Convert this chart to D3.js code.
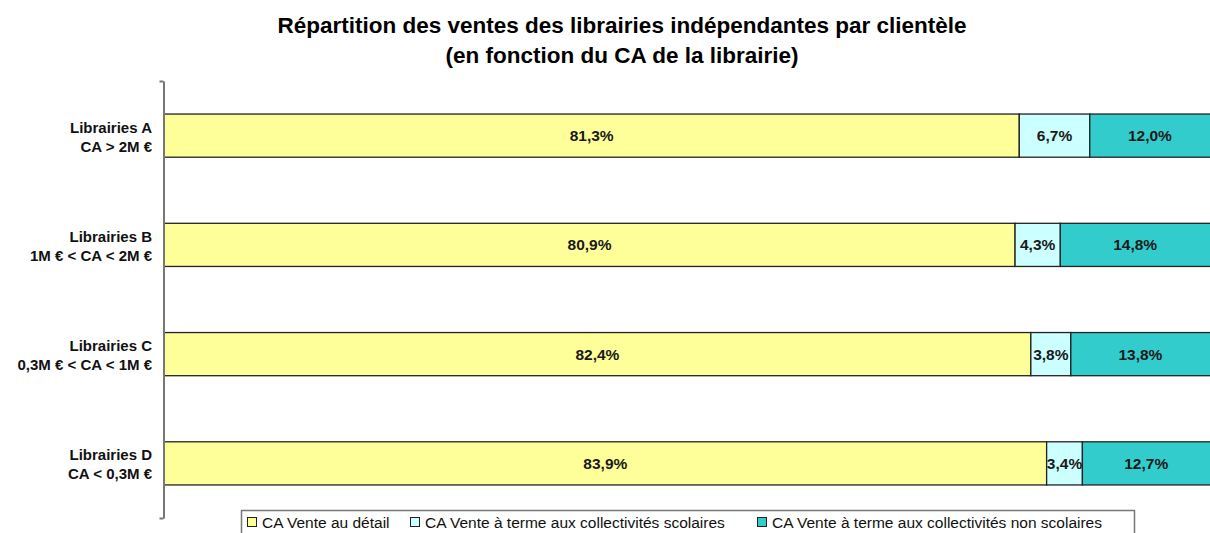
<!DOCTYPE html>
<html>
<head>
<meta charset="utf-8">
<script src="https://cdn.jsdelivr.net/npm/d3@7"></script>
<style>
  body { margin: 0; background: #fff; }
  svg { display: block; font-family: "Liberation Sans", Arial, sans-serif; }
</style>
</head>
<body>
<svg></svg>
<script>
let categories = [
    ["Librairies A", "CA > 2M €"],
    ["Librairies B", "1M € < CA < 2M €"],
    ["Librairies C", "0,3M € < CA < 1M €"],
    ["Librairies D", "CA < 0,3M €"]
];
let seriesNames = [
    "CA Vente au détail",
    "CA Vente à terme aux collectivités scolaires",
    "CA Vente à terme aux collectivités non scolaires"
];
let detail = [81.3, 80.9, 82.4, 83.9];
let scolaires = [6.7, 4.3, 3.8, 3.4];
let nonScolaires = [12.0, 14.8, 13.8, 12.7];
let colors = ["#FFFF99", "#CCFFFF", "#33CCCC"];

let width = 1210;
let height = 533;

let svg = d3.select("svg")
    .attr("width", width)
    .attr("height", height);

// title
svg.append("text")
    .attr("x", 622).attr("y", 33)
    .attr("text-anchor", "middle")
    .style("font-size", "22.5px").style("font-weight", "bold")
    .text("Répartition des ventes des librairies indépendantes par clientèle");
svg.append("text")
    .attr("x", 622).attr("y", 63)
    .attr("text-anchor", "middle")
    .style("font-size", "22.5px").style("font-weight", "bold")
    .text("(en fonction du CA de la librairie)");

let rows = categories.map((c, i) => ({
    key: i,
    values: [detail[i], scolaires[i], nonScolaires[i]]
}));

let yScale = d3.scaleBand()
    .domain(d3.range(categories.length))
    .range([81, 518])
    .paddingInner(0.605)
    .paddingOuter(0.3025);

let xScale = d3.scaleLinear()
    .domain([0, 100])
    .range([164, 1216]);

// bars
let stack = d3.stack().keys([0, 1, 2]).value((d, k) => d.values[k]);
let layers = stack(rows);

let groups = svg.selectAll("g.layer")
    .data(layers)
    .enter()
    .append("g")
    .attr("class", "layer")
    .attr("fill", (d, i) => colors[i]);

groups.selectAll("rect")
    .data(d => d)
    .enter()
    .append("rect")
    .attr("x", d => xScale(d[0]))
    .attr("width", d => xScale(d[1]) - xScale(d[0]))
    .attr("y", d => yScale(d.data.key))
    .attr("height", yScale.bandwidth())
    .attr("stroke", "#222")
    .attr("stroke-width", 1.3);

groups.selectAll("text")
    .data(d => d)
    .enter()
    .append("text")
    .attr("x", d => (xScale(d[0]) + Math.min(xScale(d[1]), 1210)) / 2)
    .attr("y", d => yScale(d.data.key) + yScale.bandwidth() / 2 + 5.5)
    .attr("text-anchor", "middle")
    .attr("fill", "#1a1a1a")
    .style("font-size", "15.5px").style("font-weight", "bold")
    .text(d => d3.format(".1f")(d[1] - d[0]).replace(".", ",") + "%");

// y axis
let yAxis = d3.axisLeft(d3.scaleLinear().domain([0, 1]).range([518, 81]))
    .tickValues([0, 1]).tickSize(4).tickSizeOuter(0).tickFormat("");
let axisG = svg.append("g")
    .attr("transform", "translate(163.5,0)")
    .call(yAxis);
axisG.selectAll("path, line").attr("stroke", "#777").attr("stroke-width", 2);

// category labels
categories.forEach((c, i) => {
    let t = svg.append("text")
        .attr("text-anchor", "end")
        .attr("y", yScale(i) + yScale.bandwidth() / 2 - 3)
        .style("font-size", "15px").style("font-weight", "bold")
        .attr("fill", "#111");
    t.append("tspan").attr("x", 152).text(c[0]);
    t.append("tspan").attr("x", 152).attr("dy", 19).text(c[1]);
});

// legend
svg.append("rect")
    .attr("x", 241.5).attr("y", 510.5)
    .attr("width", 893).attr("height", 40)
    .attr("fill", "#fff")
    .attr("stroke", "#777").attr("stroke-width", 1.5);

let legendX = [247, 410, 757];
seriesNames.forEach((s, i) => {
    svg.append("rect")
        .attr("x", legendX[i] + 0.5).attr("y", 517.5)
        .attr("width", 9).attr("height", 9)
        .attr("fill", colors[i])
        .attr("stroke", "#222").attr("stroke-width", 1);
    svg.append("text")
        .attr("x", legendX[i] + 15).attr("y", 527.5)
        .style("font-size", "15.5px")
        .attr("fill", "#111")
        .text(s);
});
</script>
</body>
</html>
